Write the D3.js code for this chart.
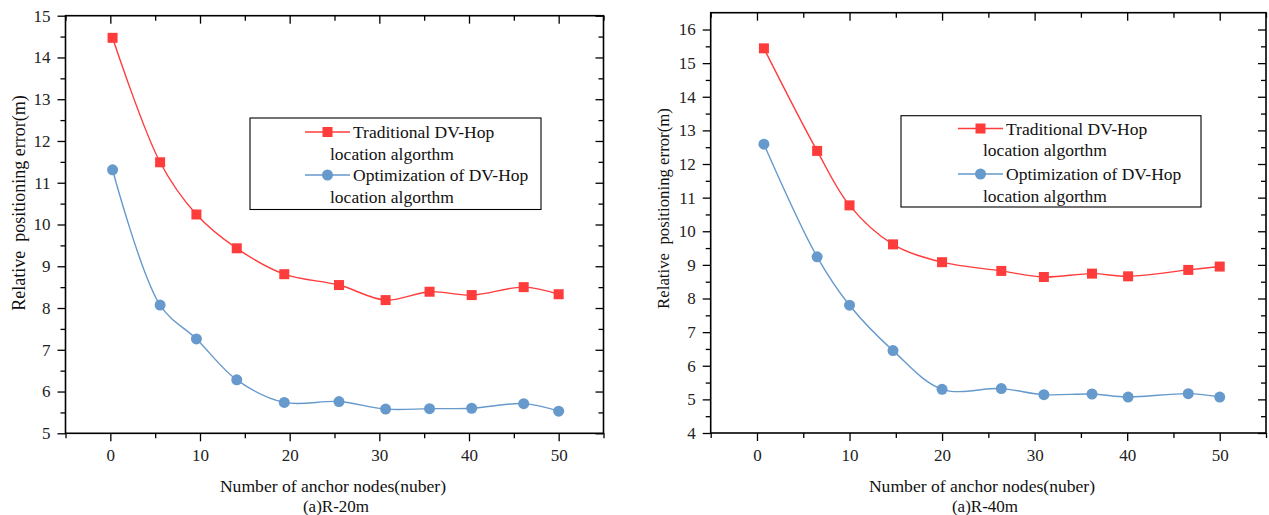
<!DOCTYPE html>
<html>
<head>
<meta charset="utf-8">
<script src="https://cdn.jsdelivr.net/npm/d3@7"></script>
<style>
  body { margin: 0; background: #fff; }
  svg { display: block; }
  svg text { font-family: "Liberation Serif", "Times New Roman", serif !important; }
</style>
</head>
<body>
<svg id="chart" width="1269" height="515"></svg>
<script>
// values
var leftX = [0.25, 5.55, 9.6, 14.1, 19.4, 25.5, 30.7, 35.6, 40.3, 46.1, 50];
var leftTraditional = [14.47, 11.49, 10.24, 9.43, 8.81, 8.55, 8.19, 8.39, 8.31, 8.50, 8.33];
var leftOptimized = [11.31, 8.07, 7.26, 6.28, 5.74, 5.76, 5.58, 5.59, 5.60, 5.71, 5.53];

var rightX = [0.75, 6.5, 10, 14.7, 20, 26.4, 31, 36.2, 40.1, 46.6, 50];
var rightTraditional = [15.44, 12.39, 10.77, 9.61, 9.08, 8.82, 8.64, 8.74, 8.66, 8.85, 8.95];
var rightOptimized = [12.59, 9.24, 7.80, 6.45, 5.30, 5.32, 5.14, 5.16, 5.07, 5.17, 5.07];

var xTicks = [0, 10, 20, 30, 40, 50];
var leftYTicks = [5, 6, 7, 8, 9, 10, 11, 12, 13, 14, 15];
var rightYTicks = [4, 5, 6, 7, 8, 9, 10, 11, 12, 13, 14, 15, 16];

var seriesNames = ["Traditional DV-Hop", "location algorthm", "Optimization of DV-Hop", "location algorthm"];
var xTitle = "Number of anchor nodes(nuber)";
var yTitle = "Relative\u00a0\u00a0positioning error(m)";

var red = "#ff3c3c", blue = "#6699cc";
var svg = d3.select("#chart");

function drawPanel(p) {
    var g = svg.append("g");
    var x = d3.scaleLinear().domain([-5, 55]).range([p.left, p.right]);
    var y = d3.scaleLinear().domain(p.yDomain).range([p.bottom, p.top]);

    var xMinor = d3.range(-5, 56, 10);
    var yMinor = d3.range(p.yDomain[0] + 0.5, p.yDomain[1], 1);

    function tidy(a) {
        a.select(".domain").remove();
        a.attr("font-family", null);
    }

    // bottom axis
    g.append("g")
        .attr("transform", `translate(0,${p.bottom})`)
        .call(d3.axisBottom(x).tickValues(xTicks).tickSize(8).tickSizeOuter(0).tickPadding(8))
        .call(tidy)
        .selectAll("text").style("font-size", "17px").attr("fill", "#222");
    g.append("g")
        .attr("transform", `translate(0,${p.bottom})`)
        .call(d3.axisBottom(x).tickValues(xMinor).tickSize(5).tickFormat(""))
        .call(tidy);
    // top mirrored ticks (pointing inward)
    g.append("g")
        .attr("transform", `translate(0,${p.top})`)
        .call(d3.axisBottom(x).tickValues(xTicks).tickSize(8).tickFormat(""))
        .call(tidy);
    g.append("g")
        .attr("transform", `translate(0,${p.top})`)
        .call(d3.axisBottom(x).tickValues(xMinor).tickSize(5).tickFormat(""))
        .call(tidy);

    // left axis
    g.append("g")
        .attr("transform", `translate(${p.left},0)`)
        .call(d3.axisLeft(y).tickValues(p.yTicks).tickSize(8).tickPadding(7))
        .call(tidy)
        .selectAll("text").style("font-size", "17px").attr("fill", "#222");
    g.append("g")
        .attr("transform", `translate(${p.left},0)`)
        .call(d3.axisLeft(y).tickValues(yMinor).tickSize(5).tickFormat(""))
        .call(tidy);
    // right mirrored ticks
    g.append("g")
        .attr("transform", `translate(${p.right},0)`)
        .call(d3.axisLeft(y).tickValues(p.yTicks).tickSize(8).tickFormat(""))
        .call(tidy);
    g.append("g")
        .attr("transform", `translate(${p.right},0)`)
        .call(d3.axisLeft(y).tickValues(yMinor).tickSize(5).tickFormat(""))
        .call(tidy);

    g.selectAll(".tick line").attr("stroke", "#000").attr("stroke-width", 1.3);

    // frame
    g.append("rect")
        .attr("x", p.left).attr("y", p.top)
        .attr("width", p.right - p.left).attr("height", p.bottom - p.top)
        .attr("fill", "none").attr("stroke", "#000").attr("stroke-width", 1.6);

    var line = d3.line()
        .x(d => x(d[0])).y(d => y(d[1]))
        .curve(d3.curveCatmullRom.alpha(0.5));

    var redPts = p.xs.map((v, i) => [v, p.trad[i]]);
    var bluePts = p.xs.map((v, i) => [v, p.opt[i]]);

    g.append("path").datum(redPts).attr("d", line)
        .attr("fill", "none").attr("stroke", red).attr("stroke-width", 1.4);
    g.append("path").datum(bluePts).attr("d", line)
        .attr("fill", "none").attr("stroke", blue).attr("stroke-width", 1.4);

    g.selectAll(".sq").data(redPts).join("rect")
        .attr("x", d => x(d[0]) - 5).attr("y", d => y(d[1]) - 5)
        .attr("width", 10).attr("height", 10).attr("fill", red);
    g.selectAll(".dot").data(bluePts).join("circle")
        .attr("cx", d => x(d[0])).attr("cy", d => y(d[1]))
        .attr("r", 5.5).attr("fill", blue);

    // legend
    var lg = g.append("g");
    lg.append("rect")
        .attr("x", p.legend.x0).attr("y", p.legend.y0)
        .attr("width", p.legend.x1 - p.legend.x0).attr("height", p.legend.y1 - p.legend.y0)
        .attr("fill", "#fff").attr("stroke", "#000").attr("stroke-width", 1.1);
    var lx0 = p.legend.lineX0, lx1 = p.legend.lineX0 + 45, mx = (lx0 + lx1) / 2;
    var rows = p.legend.rows;
    lg.append("line").attr("x1", lx0).attr("x2", lx1).attr("y1", rows[0]).attr("y2", rows[0])
        .attr("stroke", red).attr("stroke-width", 1.4);
    lg.append("rect").attr("x", mx - 5).attr("y", rows[0] - 5).attr("width", 10).attr("height", 10).attr("fill", red);
    lg.append("line").attr("x1", lx0).attr("x2", lx1).attr("y1", rows[2]).attr("y2", rows[2])
        .attr("stroke", blue).attr("stroke-width", 1.4);
    lg.append("circle").attr("cx", mx).attr("cy", rows[2]).attr("r", 5.5).attr("fill", blue);
    seriesNames.forEach((t, i) => {
        lg.append("text")
            .attr("x", i % 2 === 0 ? lx1 + 3 : p.legend.wrapX)
            .attr("y", rows[i])
            .attr("dy", "0.35em")
            .style("font-size", "17.5px")
            .attr("fill", "#111")
            .text(t);
    });

    // axis titles
    g.append("text")
        .attr("x", p.xTitleX).attr("y", 492)
        .attr("text-anchor", "middle")
        .style("font-size", "17.6px").attr("fill", "#111")
        .text(xTitle);
    g.append("text")
        .attr("x", p.xTitleX + 3).attr("y", 512)
        .attr("text-anchor", "middle")
        .style("font-size", "17px").attr("fill", "#111")
        .text(p.sub);
    g.append("text")
        .attr("transform", `translate(${p.yTitleX},${p.yTitleY}) rotate(-90)`)
        .attr("text-anchor", "middle").attr("dy", "0.35em")
        .style("font-size", p.yTitleSize).attr("fill", "#111")
        .text(yTitle);
}

drawPanel({
    left: 65.5, right: 603.5, top: 15.7, bottom: 433.3,
    yDomain: [5, 15], yTicks: leftYTicks,
    xs: leftX, trad: leftTraditional, opt: leftOptimized,
    legend: { x0: 250, x1: 541, y0: 118, y1: 209.5, lineX0: 305, wrapX: 330, rows: [132, 154, 175, 197] },
    xTitleX: 333, sub: "(a)R-20m",
    yTitleX: 18.5, yTitleY: 203, yTitleSize: "18px"
});

drawPanel({
    left: 710.7, right: 1266, top: 12.7, bottom: 433,
    yDomain: [4, 16.5], yTicks: rightYTicks,
    xs: rightX, trad: rightTraditional, opt: rightOptimized,
    legend: { x0: 901, x1: 1201, y0: 115.7, y1: 207, lineX0: 958, wrapX: 983, rows: [128.5, 150, 174, 195.5] },
    xTitleX: 982, sub: "(a)R-40m",
    yTitleX: 663, yTitleY: 208.5, yTitleSize: "16.8px"
});
</script>
</body>
</html>
